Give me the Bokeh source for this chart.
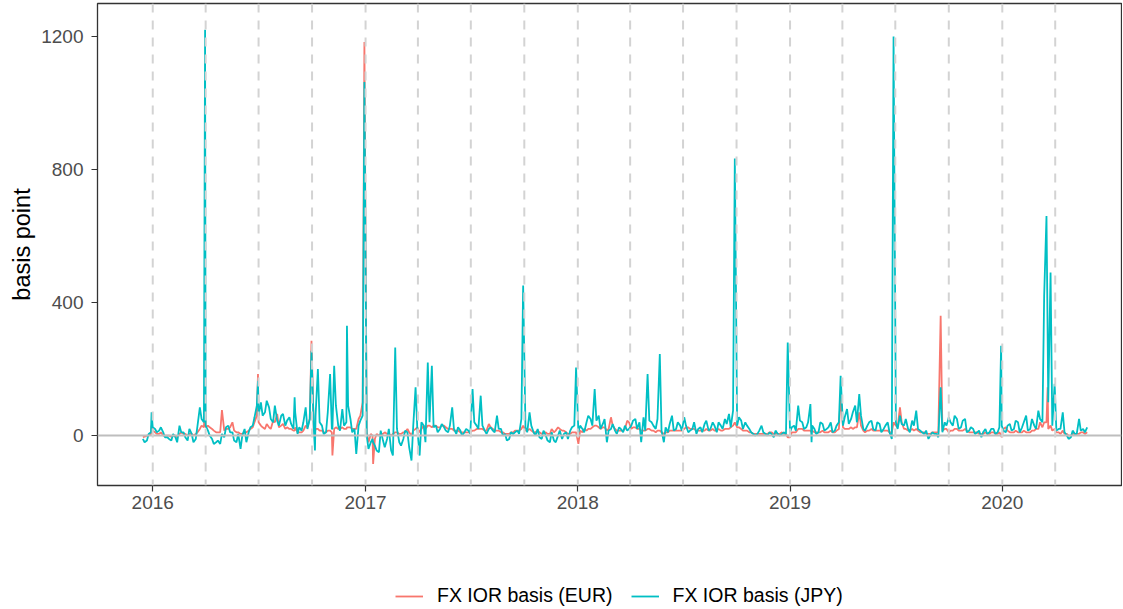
import pandas as pd
from bokeh.plotting import figure
from bokeh.layouts import column
from bokeh.models import (Span, Legend, LegendItem, FixedTicker, DatetimeTickFormatter,
                          Range1d, ColumnDataSource)
from bokeh.embed import file_html
from bokeh.resources import INLINE

# ---------------- data ----------------
# Tuesday observations, every 7 days from this date
tue_start = "2015-12-15"
jpy_tue = [
    -10, -15, 10, 20, 15, 10, -5, -15, -5, 30, 10, -15, 5, -10, 85, 40,
    15, -10, -20, -25, -5, 30, 10, -20, -40, 20, 10, 30, 90,
    100, 70, 85, 40, 45, 60, 30, 55, 20, 5, 15, 85, 50,
    20, 200, 30, 10, 185, 210, 30, 80, 40, 50, 20, 30, 60,
    0, -20, -30, -50, -15, -10, -45, 265, -20, -10, 10, -75, 145,
    -60, 30, 220, 210, 30, 20, 25, 10, 85, 5, 15, 10, 15,
    140, 30, 120, 15, 20, 15, 60, 20, 5, -10, 5, 15, 50,
    25, 70, 10, 20, -10, 0, -20, -15, 0, -10, 10, 15, 30,
    10, 20, 40, 50, 140, 60, 35, -20, 20, 15, 25, 10, 15,
    30, 50, 40, 55, 185, 40, 20, 245, -20, 10, 60, 20, 30,
    55, 10, 20, 5, 25, 35, 15, 40, 10, 30, 50, 65, 75,
    30, 45, 40, 20, 5, 5, 30, 5, 10, -5, 5, 5, 5,
    10, 30, 90, 40, 25, 95, 20, 10, 35, 20, 40, 15, 40,
    30, 80, 50, 90, 125, 20, 30, 45, 15, 35, 20, 40, -10,
    40, 60, 30, 20, 45, 75, 15, 5, -10, 10, 5, 20, 40,
    55, 30, 50, 25, 50, 15, 20, 10, -5, 20, 10, 20, 10, 30,
    10, 35, 20, 40, 25, 60, 20, 30, 75, 40, 660, 490, 156,
    20, 70, 0, -5, 5, 50, 20, 25,
]
eur_tue = [
    -5, 0, 5, 10, 5, 0, 0, -3, 0, 5, 5, 0, 5, 5, 20, 25,
    30, 20, 10, 10, 15, 20, 40, 10, 5, 10, 15, 25, 60,
    30, 20, 25, 45, 65, 30, 20, 20, 15, 10, 10, 30, 50,
    15, 20, 15, 10, 15, 20, 20, 25, 20, 25, 20, 50, 100,
    10, 5, -10, 0, 5, 5, 0, 10, 5, 10, 20, 0, 20,
    10, 30, 30, 25, 30, 25, 30, 20, 20, 15, 10, 10, 10,
    15, 20, 20, 15, 35, 20, 15, 10, 5, 5, 10, 15, 20,
    15, 20, 10, 15, 5, 10, 5, 10, 25, 15, 10, 5, 10,
    -25, 10, 15, 20, 30, 25, 25, 15, 55, 20, 15, 15, 45,
    20, 25, 20, 15, 20, 15, 10, 15, 5, 10, 15, 15, 15,
    20, 25, 20, 15, 15, 15, 15, 20, 15, 15, 20, 20, 30,
    25, 20, 15, 10, 5, 5, 5, 5, 10, 5, 5, 10, 5,
    -5, 10, 20, 20, 15, 15, 10, 10, 15, 10, 15, 10, 20,
    25, 20, 25, 25, 70, 15, 15, 20, 15, 15, 15, 15, 10,
    30, 85, 20, 15, 20, 20, 10, 10, 5, 10, 10, 30, 20,
    10, 15, 20, 15, 20, 10, 10, 10, 5, 10, 5, 10, 5, -5,
    25, 10, 10, 10, 10, 10, 10, 15, 20, 25, 40, 30, 20,
    10, 15, 5, 0, 5, 5, 10, 10,
]

# Friday observations, every 7 days from this date
fri_start = "2015-12-18"
jpy_fri = [
    -20, 5, 25, 10, 25, -5, -10, 5, -20, 10, -5, 20, -20, 30, 50, 30,
    0, -25, -15, -30, 25, 10, -15, 5, 0, -20, 25, 55, 60,
    60, 105, 50, 90, 30, 65, 45, 35, 70, 25, 40, 20, 30,
    60, 40, 5, 70, 20, 90, 15, 30, 90, 10, 35, 45, 10,
    -40, -10, -45, 15, -35, 20, -60, 20, -30, 15, -35, 30, 20,
    40, -20, 40, 25, 10, 35, 15, 30, 20, 25, 0, 20, 5,
    40, 20, 30, 5, 25, 10, 20, 0, -15, 10, 10, 5, 20,
    10, 30, 0, -5, 15, -15, 10, -20, 15, 5, -10, 25, 20,
    30, 10, 60, 30, 45, 20, 50, 15, 35, 5, 20, 30, 20,
    45, 20, 35, 15, 45, 30, 50, 15, 25, 35, 15, 40, 15,
    30, 15, 40, 20, 10, 45, 20, 30, 40, 20, 35, 25, 50,
    55, 20, 30, 10, 0, 15, 10, 0, 5, 15, 0, 10, 20,
    25, 15, 45, 20, 40, 30, 5, 40, 15, 25, 10, 30, 25,
    55, 35, 70, 40, 60, 15, 40, 20, 40, 10, 30, 10, 35,
    20, 35, 50, 10, 30, 20, 10, 15, 0, 5, -5, 10, 30,
    40, 60, 20, 45, 10, 25, 5, 15, 10, 5, 20, 5, 25,
    15, 30, 15, 45, 10, 40, 15, 50, 20, 50, 420, 100, 30,
    15, 20, 10, -10, 15, 5, 15, 10,
]
eur_fri = [
    -3, 0, 15, 5, 10, 0, 0, 0, -5, 10, 5, 5, 0, 10, 30, 25,
    25, 15, 10, 20, 20, 25, 15, 10, 5, 10, 20, 40, 40,
    25, 35, 20, 40, 25, 35, 25, 20, 25, 10, 15, 25, 60,
    20, 15, 10, 15, 10, 25, 20, 20, 25, 20, 30, 60, 20,
    -20, 0, 5, 5, 10, 5, 5, 10, 5, 10, 10, 15, 25,
    20, 20, 30, 30, 25, 30, 25, 20, 15, 15, 10, 10, 10,
    15, 20, 20, 15, 25, 15, 15, 10, 5, 10, 15, 15, 20,
    15, 15, 10, 10, 10, 5, 20, 15, 20, 15, 5, 10, 10,
    15, 20, 20, 25, 30, 20, 25, 20, 30, 15, 15, 20, 40,
    25, 20, 20, 15, 20, 15, 15, 10, 10, 15, 15, 15, 15,
    25, 20, 20, 15, 15, 20, 15, 15, 20, 15, 20, 25, 30,
    25, 15, 15, 10, 5, 5, 5, 5, 10, 5, 5, 5, 0,
    10, 10, 20, 15, 15, 15, 10, 10, 10, 10, 10, 15, 20,
    20, 20, 20, 25, 30, 10, 15, 15, 15, 15, 15, 10, 10,
    25, 40, 20, 15, 15, 15, 10, 5, 5, 10, 10, 15, 20,
    15, 20, 15, 15, 15, 10, 10, 5, 5, 5, 10, 5, 10,
    20, 15, 10, 15, 10, 15, 10, 15, 20, 40, 40, 20, 15,
    10, 5, 5, 0, 5, 5, 10, 5,
]

# single-day spikes and dips between the regular observations
event_dates = [
    "2015-12-30", "2016-03-31", "2016-04-29", "2016-06-30", "2016-09-01",
    "2016-09-30", "2016-10-06", "2016-11-05", "2016-11-30", "2016-12-16",
    "2016-12-30", "2017-01-14", "2017-09-29", "2017-12-29", "2018-04-20",
    "2018-09-28", "2018-12-28", "2019-02-07", "2019-03-29", "2019-06-28",
    "2019-09-17", "2019-12-30", "2020-03-19",
]
event_eur = [30, 100, 77, 185, 15, 285, 10, -60, 25, 20, 1183, -85, 30, 10, 15,
             40, -5, 10, 120, 40, 360, 0, 145]
event_jpy = [70, 1220, 5, 165, 115, 255, -45, 20, 330, -55, 1063, -20, 451, 205, -20,
             833, 280, -20, 180, 1200, 145, 270, 300]

quarter_marks = [
    "2016-01-01", "2016-04-01", "2016-07-01", "2016-10-01",
    "2017-01-01", "2017-04-01", "2017-07-01", "2017-10-01",
    "2018-01-01", "2018-04-01", "2018-07-01", "2018-10-01",
    "2019-01-01", "2019-04-01", "2019-07-01", "2019-10-01",
    "2020-01-01", "2020-04-01",
]
year_ticks = ["2016-01-01", "2017-01-01", "2018-01-01", "2019-01-01", "2020-01-01"]
y_ticks = [0, 400, 800, 1200]
series_labels = ["FX IOR basis (EUR)", "FX IOR basis (JPY)"]
series_colors = ["#F8766D", "#00BFC4"]
x_limits = ("2015-09-28", "2020-07-24")
y_limits = (-150, 1299)

# ---------------- assemble ----------------
tue = pd.DataFrame({"date": pd.date_range(tue_start, periods=len(jpy_tue), freq="7D"),
                    "eur": eur_tue, "jpy": jpy_tue})
fri = pd.DataFrame({"date": pd.date_range(fri_start, periods=len(jpy_fri), freq="7D"),
                    "eur": eur_fri, "jpy": jpy_fri})
events = pd.DataFrame({"date": pd.to_datetime(event_dates), "eur": event_eur, "jpy": event_jpy})
df = (pd.concat([tue, fri, events]).drop_duplicates("date", keep="last")
      .sort_values("date").reset_index(drop=True))
src = ColumnDataSource(df)


def ms(d):
    return pd.Timestamp(d).value / 1e6


FONT = "Liberation Sans"
W = 1122

p = figure(width=W, height=545, x_axis_type="datetime",
           output_backend="svg", toolbar_location=None,
           x_range=Range1d(ms(x_limits[0]), ms(x_limits[1])),
           y_range=Range1d(*y_limits),
           min_border_left=97, min_border_right=1, min_border_top=3,
           min_border_bottom=60)
p.background_fill_color = "white"
p.border_fill_color = "white"
p.xgrid.visible = False
p.ygrid.visible = False
p.outline_line_color = "#333333"
p.outline_line_width = 1.3

r_eur = p.line("date", "eur", source=src, line_color=series_colors[0], line_width=1.8)
r_jpy = p.line("date", "jpy", source=src, line_color=series_colors[1], line_width=1.8)

p.add_layout(Span(location=0, dimension="width", line_color="#BEBEBE", line_width=2))
for q in quarter_marks:
    p.add_layout(Span(location=ms(q), dimension="height", line_color="#D3D3D3",
                      line_width=2, line_dash="9 8"))

p.xaxis.ticker = FixedTicker(ticks=[ms(d) for d in year_ticks])
p.xaxis.formatter = DatetimeTickFormatter(
    microseconds="%Y", milliseconds="%Y", seconds="%Y", minsec="%Y", minutes="%Y",
    hourmin="%Y", hours="%Y", days="%Y", months="%Y", years="%Y")
p.yaxis.ticker = FixedTicker(ticks=y_ticks)

for ax in (p.xaxis[0], p.yaxis[0]):
    ax.axis_line_color = None
    ax.major_tick_line_color = "#333333"
    ax.major_tick_line_width = 1.2
    ax.major_tick_out = 6
    ax.major_tick_in = 0
    ax.minor_tick_line_color = None
    ax.major_label_text_font = FONT
    ax.major_label_text_font_size = "19px"
    ax.major_label_text_color = "#4D4D4D"
p.xaxis.major_label_standoff = 4
p.yaxis.major_label_standoff = 8

p.yaxis.axis_label = "basis point"
p.yaxis.axis_label_text_font = FONT
p.yaxis.axis_label_text_font_size = "23.5px"
p.yaxis.axis_label_text_font_style = "normal"
p.yaxis.axis_label_text_color = "black"
p.yaxis.axis_label_standoff = 3

# legend strip below the chart (its frame is aligned with the chart's frame)
leg = figure(width=W, height=63, output_backend="svg", toolbar_location=None,
             x_range=Range1d(0, 1), y_range=Range1d(0, 1),
             x_axis_location=None, y_axis_location=None,
             min_border_left=0, min_border_right=0, min_border_top=0, min_border_bottom=0)
leg.outline_line_color = None
leg.xgrid.visible = False
leg.ygrid.visible = False
k_eur = leg.line(x=[0, 1], y=[-5, -5], line_color=series_colors[0], line_width=1.8)
k_jpy = leg.line(x=[0, 1], y=[-5, -5], line_color=series_colors[1], line_width=1.8)
legend = Legend(
    items=[LegendItem(label=series_labels[0], renderers=[k_eur]),
           LegendItem(label=series_labels[1], renderers=[k_jpy])],
    orientation="horizontal", location=(298, 1),
    padding=0, margin=0, spacing=18, glyph_width=28, glyph_height=20,
    label_standoff=14, label_text_font=FONT, label_text_font_size="19.5px",
    label_text_color="black", border_line_color=None, background_fill_alpha=0,
)
leg.add_layout(legend)

open("out.html", "w").write(file_html(column(p, leg, spacing=0), INLINE))
